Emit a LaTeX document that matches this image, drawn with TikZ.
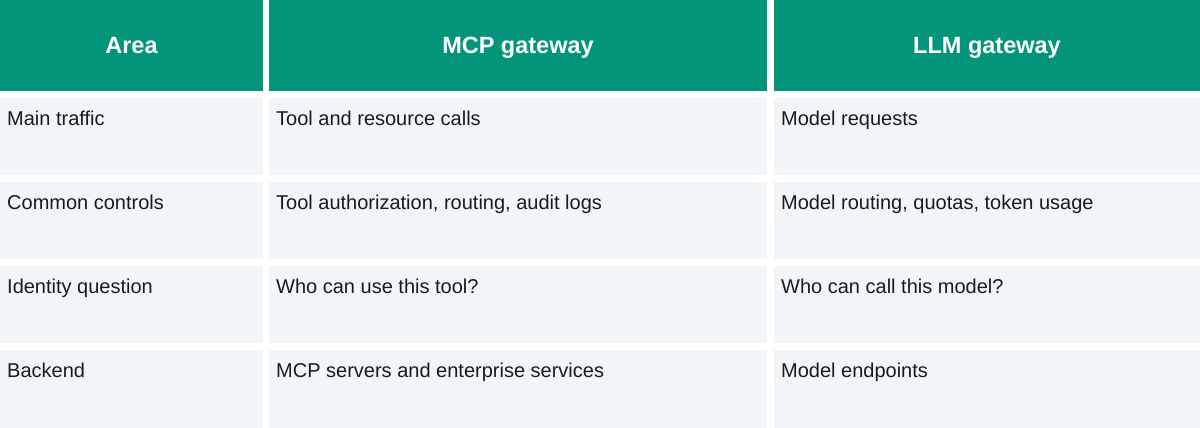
\documentclass[tikz,border=0pt]{standalone}
\usepackage{fontspec}
\setmainfont{Liberation Sans}
\definecolor{hdr}{HTML}{03957A}
\definecolor{cellbg}{HTML}{F2F5F8}
\definecolor{txt}{HTML}{1A1A1A}
\begin{document}
\begin{tikzpicture}[x=1pt,y=-1pt,
  hcell/.style={fill=hdr,draw=none},
  bcell/.style={fill=cellbg,draw=none},
  htext/.style={text=white,font=\fontsize{23.5}{28}\selectfont\bfseries,anchor=base,inner sep=0pt},
  btext/.style={text=txt,font=\fontsize{20}{24}\selectfont,anchor=base west,inner sep=0pt}]
\useasboundingbox (0,0) rectangle (1200,428);
\fill[white] (0,0) rectangle (1200,428);
\fill[hcell] (0,0) rectangle (263,91);
\fill[hcell] (269,0) rectangle (767,91);
\fill[hcell] (774,0) rectangle (1200,91);
\node[htext] (h1) at (131.5,54) {Area};
\node[htext] (h2) at (518,54) {MCP gateway};
\node[htext] (h3) at (987,54) {LLM gateway};
\foreach \t/\b in {98/175,182/259,266/343,350/428}{
  \fill[bcell] (0,\t) rectangle (263,\b);
  \fill[bcell] (269,\t) rectangle (767,\b);
  \fill[bcell] (774,\t) rectangle (1200,\b);
}
\node[btext] (a1) at (7,125) {Main traffic};
\node[btext] (b1) at (276,125) {Tool and resource calls};
\node[btext] (c1) at (781,125) {Model requests};
\node[btext] (a2) at (7,209) {Common controls};
\node[btext] (b2) at (276,209) {Tool authorization, routing, audit logs};
\node[btext] (c2) at (781,209) {Model routing, quotas, token usage};
\node[btext] (a3) at (7,293) {Identity question};
\node[btext] (b3) at (276,293) {Who can use this tool?};
\node[btext] (c3) at (781,293) {Who can call this model?};
\node[btext] (a4) at (7,377) {Backend};
\node[btext] (b4) at (276,377) {MCP servers and enterprise services};
\node[btext] (c4) at (781,377) {Model endpoints};
\end{tikzpicture}
\end{document}
